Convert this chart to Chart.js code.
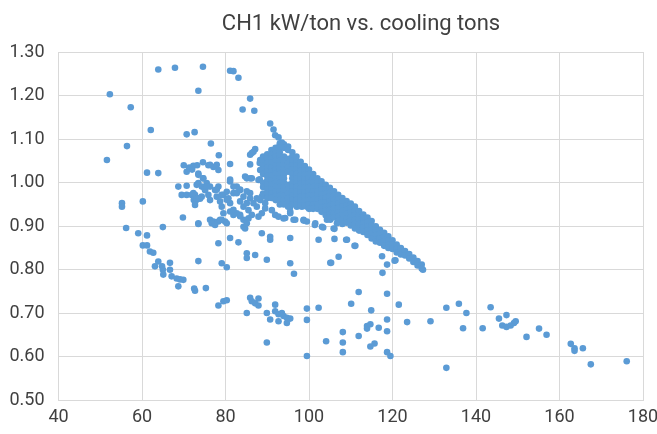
<!DOCTYPE html>
<html>
<head>
<meta charset="utf-8">
<script src="https://cdn.jsdelivr.net/npm/chart.js@4.4.1/dist/chart.umd.min.js"></script>
<style>
  html, body { margin: 0; padding: 0; background: #ffffff; }
  #wrap { width: 657px; height: 434px; }
</style>
</head>
<body>
<div id="wrap"><canvas id="chart" width="657" height="434"></canvas></div>
<script>
// ---------------- DATA ----------------
const chartTitle = 'CH1 kW/ton vs. cooling tons';
const seriesName = 'CH1 kW/ton';

const xTickValues = [40, 60, 80, 100, 120, 140, 160, 180];
const yTickValues = [0.5, 0.6, 0.7, 0.8, 0.9, 1.0, 1.1, 1.2, 1.3];
const yTickLabels = ['0.50', '0.60', '0.70', '0.80', '0.90', '1.00', '1.10', '1.20', '1.30'];

// [cooling tons, kW/ton]
const upperPoints = [
  [63.9,1.26],[67.9,1.264],[74.6,1.266],[81.1,1.257],[81.9,1.256],[83.1,1.241],
  [52.3,1.203],[73.5,1.211],[85.9,1.193],
  [57.3,1.173],[84.1,1.168],[86.9,1.165],
  [62.1,1.121],[70.7,1.111],[72.6,1.116],
  [90.7,1.136],[91.5,1.122],[91.9,1.109],[92.7,1.104],[93.5,1.092],
  [56.4,1.084],[76.5,1.09],[92.7,1.081],
  [51.6,1.052],[78.4,1.063],[86.3,1.068],[87.1,1.077],[74.6,1.047],[72.3,1.039],
  [61.2,1.023],[63.9,1.022],[70.0,1.04],[71.3,1.035],[72.0,1.03],[73.2,1.04],[70.7,1.025],[73.5,1.021],
  [75.9,1.04],[76.3,1.041],[77.1,1.036],[77.9,1.041],[78.3,1.029],
  [81.1,1.043],[85.9,1.042],[88.3,1.052],[85.9,1.064],[86.7,1.071],[88.2,1.045]
];

const clusterPoints = [
  [68.7,0.991],[70.7,0.993],[73.5,0.999],[69.5,0.972],[70.7,0.972],[71.9,0.972],[72.7,0.972],
  [72.4,0.96],[73.0,0.96],[72.7,0.949],[73.1,0.965],[73.9,0.963],
  [73.5,1.018],[74.7,1.01],[73.1,0.995],[74.3,0.991],[75.1,0.983],[72.3,0.976],[73.5,0.964],
  [75.9,0.972],[76.3,0.96],[77.5,0.983],[78.3,0.991],[77.9,0.968],[78.7,0.957],[79.1,0.945],
  [79.5,0.972],[80.3,0.979],[80.7,0.964],[81.1,0.953],[81.9,0.976],[82.7,0.991],[83.5,0.983],
  [84.3,0.968],[83.5,0.957],[84.3,0.945],[85.1,0.953],[85.5,0.937],[85.9,0.976],[85.9,1.01],
  [87.9,1.006],[88.3,1.029],[86.3,0.926],[85.5,0.918],[84.3,0.915],[83.5,0.926],[82.7,0.93],
  [81.9,0.926],[81.1,0.934],[79.5,0.93],[79.9,0.911],[78.3,0.911],[79.1,0.915],[77.1,0.911],
  [76.3,0.915],[76.7,0.907],[77.5,0.903],[73.5,0.907],[84.3,0.899],[84.7,0.895],[88.3,0.96],
  [89.5,0.953],[89.5,0.941],[88.7,0.93],[87.9,0.922],[87.5,0.945],
  [77.9,0.984],[79.1,0.972],[80.3,0.961],[81.1,1.003],[81.9,0.991],[82.7,0.976],[83.5,0.984],
  [85.1,0.98],[85.9,0.964],[86.7,0.953],[87.5,0.964],[88.7,0.968],[81.9,0.938],[83.5,0.923],
  [85.1,0.907],[78.7,0.915],[80.3,0.907],
  [85.1,1.01],[86.3,1.01],[88.2,1.008],[84.7,1.014],[81.1,1.007],
  [74.6,1.01],[75.5,0.999],[76.3,0.991],[75.1,0.984],[74.3,0.968],[75.5,0.991],
  [69.8,0.92],[73.5,0.905],[65.0,0.898],
  [91.1,0.937],[91.9,0.926],[92.7,0.922],[93.9,0.918],[95.5,0.93],[96.3,0.915],[97.1,0.945],
  [98.3,0.945],[99.5,0.945],[100.3,0.941],[98.7,0.915],[99.5,0.911],[101.5,0.907],[103.1,0.899],
  [104.3,0.915],[105.9,0.895],[106.7,0.907],
  [94.3,0.919],[96.7,0.915],[98.7,0.913],[105.1,0.915],[107.5,0.911],[95.5,0.945],[95.5,0.934],
  [101.4,0.903],[103.4,0.897],[106.1,0.894]
];

// dense band: [cooling tons, [kW/ton values stacked in that column]]
const bandColumns = [
  [89,  [1.06,1.05,1.04,1.03,1.02,1.0,0.99,0.975]],
  [90,  [1.065,1.055,1.045,1.035,1.025,1.015,1.005,0.995,0.985,0.975,0.965]],
  [91,  [1.075,1.065,1.055,1.045,1.035,1.025,1.015,1.005,0.995,0.985,0.975,0.965]],
  [92,  [1.08,1.07,1.06,1.05,1.04,1.03,1.02,1.01,1.0,0.99,0.98,0.97,0.96]],
  [93,  [1.09,1.08,1.07,1.06,1.05,1.04,1.03,1.02,1.01,1.0,0.99,0.98,0.97,0.96,0.95]],
  [94,  [1.088,1.08,1.06,1.05,1.04,1.03,1.02,1.01,1.0,0.99,0.98,0.97,0.96,0.95]],
  [95,  [1.083,1.075,1.055,1.045,1.035,1.025,0.995,0.985,0.975,0.965,0.955,0.945]],
  [96,  [1.07,1.06,1.05,1.04,1.03,1.02,1.01,1.0,0.99,0.98,0.97,0.96,0.95]],
  [97,  [1.06,1.05,1.04,1.03,1.02,1.01,1.0,0.99,0.98,0.97,0.96,0.95]],
  [98,  [1.048,1.038,1.028,1.018,1.008,0.998,0.988,0.978,0.968,0.958,0.948]],
  [99,  [1.038,1.028,1.018,1.008,0.998,0.988,0.978,0.968,0.958,0.948]],
  [100, [1.03,1.02,1.01,1.0,0.99,0.98,0.97,0.96,0.95,0.94]],
  [101, [1.02,1.01,1.0,0.99,0.98,0.97,0.96,0.95,0.94]],
  [102, [1.01,1.0,0.99,0.98,0.97,0.96,0.95,0.94]],
  [103, [1.003,0.993,0.983,0.973,0.963,0.953,0.943,0.933]],
  [104, [0.995,0.985,0.975,0.965,0.955,0.945,0.935,0.925]],
  [105, [0.988,0.978,0.968,0.958,0.948,0.938,0.928,0.92]],
  [106, [0.98,0.97,0.96,0.95,0.94,0.93,0.92]],
  [107, [0.972,0.962,0.952,0.942,0.932,0.922,0.912]],
  [108, [0.965,0.955,0.945,0.935,0.925,0.915,0.905]],
  [109, [0.958,0.948,0.938,0.928,0.918,0.908]],
  [110, [0.952,0.942,0.932,0.922,0.912,0.902]],
  [111, [0.945,0.935,0.925,0.915,0.905,0.895]],
  [112, [0.935,0.925,0.915,0.905,0.895,0.89]],
  [113, [0.927,0.917,0.907,0.897,0.887]],
  [114, [0.92,0.91,0.9,0.89,0.88]],
  [115, [0.912,0.902,0.892,0.882,0.872]],
  [116, [0.9,0.89,0.88,0.87,0.865]],
  [117, [0.892,0.882,0.872,0.862]],
  [118, [0.885,0.875,0.865,0.855]],
  [119, [0.877,0.867,0.857,0.85]],
  [120, [0.868,0.858,0.848]],
  [121, [0.858,0.848,0.84]],
  [122, [0.85,0.84,0.835]],
  [123, [0.843,0.833]],
  [124, [0.836,0.826]],
  [125, [0.828,0.818]],
  [126, [0.82,0.81]],
  [127, [0.812,0.803]]
];

const lowerPoints = [
  [55.2,0.953],[55.2,0.945],[60.2,0.957],[56.2,0.896],[59.1,0.884],[61.2,0.879],
  [60.2,0.856],[61.2,0.856],[61.9,0.842],[62.7,0.839],[63.9,0.819],[63.1,0.808],
  [64.8,0.808],[65.0,0.80],[65.1,0.789],[66.7,0.816],[66.7,0.80],[67.1,0.785],
  [68.3,0.78],[69.1,0.778],[69.9,0.777],[68.7,0.762],[72.5,0.757],[72.7,0.752],[75.3,0.758],[73.5,0.82],
  [78.3,0.861],[81.1,0.873],[83.1,0.863],[88.7,0.884],[90.7,0.876],[90.7,0.869],[95.5,0.873],
  [102.3,0.869],[106.1,0.871],[109.1,0.869],[111.1,0.855],[108.9,0.869],[110.9,0.855],
  [79.1,0.815],[80.3,0.806],[85.1,0.838],[85.1,0.827],[87.1,0.834],[89.9,0.823],
  [95.5,0.815],[96.4,0.791],[105.1,0.816],[107.1,0.83],[105.3,0.816],
  [117.5,0.831],[118.7,0.812],[120.7,0.822],[117.6,0.793],[120.5,0.821],
  [78.3,0.718],[79.5,0.728],[80.3,0.73],[85.9,0.736],[86.3,0.728],[87.9,0.734],[87.1,0.723],
  [87.9,0.718],[85.1,0.701],[89.9,0.701],[90.7,0.686],[91.9,0.72],[91.9,0.705],[92.7,0.698],
  [92.7,0.682],[93.5,0.701],[93.9,0.694],[94.7,0.678],[95.5,0.688],[94.7,0.69],[89.9,0.633],
  [99.5,0.711],[99.5,0.685],[99.5,0.602],[102.3,0.713],[104.1,0.636],[108.1,0.657],[108.1,0.633],
  [108.1,0.611],[110.1,0.722],[111.9,0.749],[111.9,0.648],[113.9,0.671],[113.9,0.665],[114.7,0.675],
  [114.9,0.707],[114.7,0.624],[115.7,0.631],[116.7,0.667],[118.7,0.745],[118.7,0.686],[118.7,0.659],
  [118.7,0.611],[119.5,0.602],[121.5,0.72],[123.5,0.68],[129.1,0.682]
];

const tailPoints = [
  [127.3,0.80],[132.9,0.713],[135.9,0.722],[137.7,0.701],[136.9,0.666],[132.9,0.575],
  [141.6,0.666],[143.5,0.714],[145.5,0.688],[147.3,0.696],[146.3,0.672],[147.3,0.669],
  [148.3,0.672],[149.1,0.678],[149.5,0.682],[152.1,0.646],[155.1,0.665],[156.9,0.651],
  [162.7,0.63],[163.6,0.62],[163.6,0.614],[165.6,0.62],[167.5,0.583],[176.1,0.59]
];

// ---------------- BUILD ----------------
const points = [];
[upperPoints, clusterPoints, lowerPoints, tailPoints].forEach(group =>
  group.forEach(p => points.push({ x: p[0], y: p[1] })));
bandColumns.forEach(col => col[1].forEach(v => points.push({ x: col[0], y: v })));

const textColor = '#404040';
const fontFamily = 'Roboto, "Liberation Sans", sans-serif';

const titlePlugin = {
  id: 'chartTitleText',
  afterDraw(chart) {
    const c = chart.ctx;
    c.save();
    c.font = '22px ' + fontFamily;
    c.fillStyle = textColor;
    c.textAlign = 'center';
    c.textBaseline = 'alphabetic';
    c.fillText(chartTitle, 361, 30);
    c.restore();
  }
};

new Chart(document.getElementById('chart'), {
  type: 'scatter',
  data: {
    datasets: [{
      label: seriesName,
      data: points,
      backgroundColor: '#5B9BD5',
      borderColor: '#5B9BD5',
      borderWidth: 0,
      pointRadius: 3.3,
      pointHoverRadius: 3.3
    }]
  },
  options: {
    responsive: false,
    animation: false,
    devicePixelRatio: 1,
    layout: { padding: { top: 52, right: 14, bottom: 0, left: 0 } },
    plugins: {
      legend: { display: false },
      tooltip: { enabled: false },
      title: { display: false }
    },
    scales: {
      x: {
        type: 'linear',
        min: xTickValues[0],
        max: xTickValues[xTickValues.length - 1],
        afterBuildTicks: s => { s.ticks = xTickValues.map(v => ({ value: v })); },
        ticks: { color: textColor, font: { family: fontFamily, size: 18 }, padding: 6, maxRotation: 0, callback: v => String(v) },
        grid: { color: '#D9D9D9', lineWidth: 1, drawTicks: false },
        border: { display: false },
        afterFit: s => { s.height = 33.5; s.paddingLeft = 0; s.paddingRight = 0; }
      },
      y: {
        type: 'linear',
        min: yTickValues[0],
        max: yTickValues[yTickValues.length - 1],
        afterBuildTicks: s => { s.ticks = yTickValues.map(v => ({ value: v })); },
        ticks: {
          color: textColor, font: { family: fontFamily, size: 18 }, padding: 14,
          callback: v => { const i = yTickValues.findIndex(t => Math.abs(t - v) < 1e-6); return i >= 0 ? yTickLabels[i] : ''; }
        },
        grid: { color: '#D9D9D9', lineWidth: 1, drawTicks: false },
        border: { display: false },
        afterFit: s => { s.width = 58.5; s.paddingTop = 0; s.paddingBottom = 0; }
      }
    }
  },
  plugins: [titlePlugin]
});
</script>
</body>
</html>
